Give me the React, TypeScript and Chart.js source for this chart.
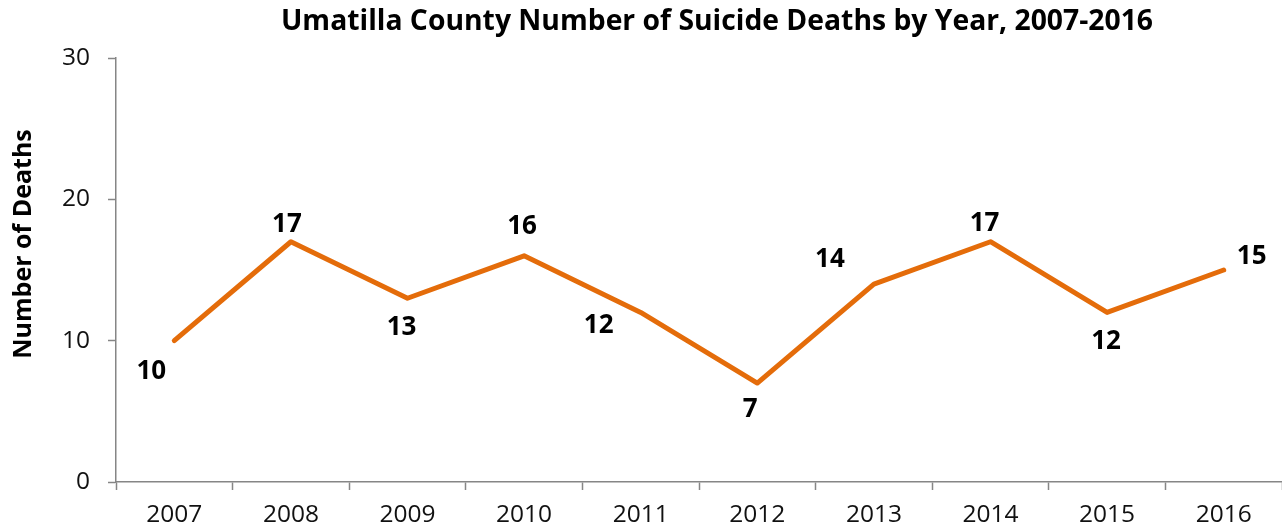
import React, { useEffect, useRef } from "react";
import { Chart, registerables } from "chart.js";

Chart.register(...registerables);

const years = ["2007", "2008", "2009", "2010", "2011", "2012", "2013", "2014", "2015", "2016"];
const deaths = [10, 17, 13, 16, 12, 7, 14, 17, 12, 15];
const yTicks = [0, 10, 20, 30];
const chartTitle = "Umatilla County Number of Suicide Deaths by Year, 2007-2016";
const yAxisTitle = "Number of Deaths";

// label placement relative to each point (style, in px)
const labelOffsets: [number, number][] = [
  [-23, 29], [-4, -19], [-6, 27], [-2, -31], [-42, 11],
  [-7, 25], [-44, -26], [-6, -20], [-1, 27], [28, -15],
];

const FONT = "'Open Sans', 'Noto Sans', sans-serif";
const AXIS_COLOR = "#868686";
const LINE_COLOR = "#E46C0A";

const labelsPlugin = {
  id: "customLabels",
  afterDatasetsDraw(chart: any) {
    const ctx = chart.ctx;
    const meta = chart.getDatasetMeta(0);
    ctx.save();
    ctx.font = `bold 26px ${FONT}`;
    ctx.fillStyle = "#000";
    ctx.textAlign = "center";
    ctx.textBaseline = "alphabetic";
    meta.data.forEach((pt: any, i: number) => {
      const [dx, dy] = labelOffsets[i];
      ctx.fillText(String(deaths[i]), pt.x + dx, pt.y + dy + 9.3);
    });
    // chart title
    ctx.font = `bold 28.3px ${FONT}`;
    ctx.fillText(chartTitle, 717, 30);
    // y axis title
    ctx.font = `bold 25px ${FONT}`;
    ctx.translate(24, 244);
    ctx.rotate(-Math.PI / 2);
    ctx.textBaseline = "middle";
    ctx.fillText(yAxisTitle, 0, 0);
    ctx.restore();
  },
};

export default function App() {
  const ref = useRef<HTMLCanvasElement | null>(null);
  useEffect(() => {
    if (!ref.current) return;
    const chart = new Chart(ref.current, {
      type: "line",
      data: {
        labels: years,
        datasets: [
          {
            data: deaths,
            borderColor: LINE_COLOR,
            backgroundColor: LINE_COLOR,
            borderWidth: 5,
            pointRadius: 0,
            tension: 0,
            borderCapStyle: "round",
            borderJoinStyle: "round",
          },
        ],
      },
      options: {
        animation: false,
        responsive: true,
        maintainAspectRatio: false,
        layout: { padding: { top: 58, left: 0, right: 0, bottom: 0 } },
        plugins: { legend: { display: false }, title: { display: false }, tooltip: { enabled: false } },
        scales: {
          x: {
            type: "category",
            offset: true,
            grid: {
              offset: true,
              drawOnChartArea: false,
              drawTicks: true,
              tickLength: 8,
              color: AXIS_COLOR,
              tickWidth: 1.5,
            },
            border: { display: true, color: AXIS_COLOR, width: 1.5 },
            ticks: {
              color: "#111",
              font: { family: FONT, size: 24.5 },
              padding: 10,
              maxRotation: 0,
              autoSkip: false,
            },
            afterFit(scale: any) {
              scale.height = 49;
            },
          },
          y: {
            min: 0,
            max: 30,
            afterBuildTicks(scale: any) {
              scale.ticks = yTicks.map((v) => ({ value: v }));
            },
            grid: {
              drawOnChartArea: false,
              drawTicks: true,
              tickLength: 8,
              color: AXIS_COLOR,
              tickWidth: 1.5,
            },
            border: { display: true, color: AXIS_COLOR, width: 1.5 },
            ticks: {
              color: "#111",
              font: { family: FONT, size: 24.5 },
              padding: 18,
            },
            title: { display: false },
            afterFit(scale: any) {
              scale.width = 116;
            },
          },
        },
      },
      plugins: [labelsPlugin],
    });
    return () => chart.destroy();
  }, []);
  return (
    <div style={{ position: "absolute", left: 0, top: 0, width: 1282, height: 531, background: "#fff" }}>
      <canvas ref={ref} />
    </div>
  );
}
